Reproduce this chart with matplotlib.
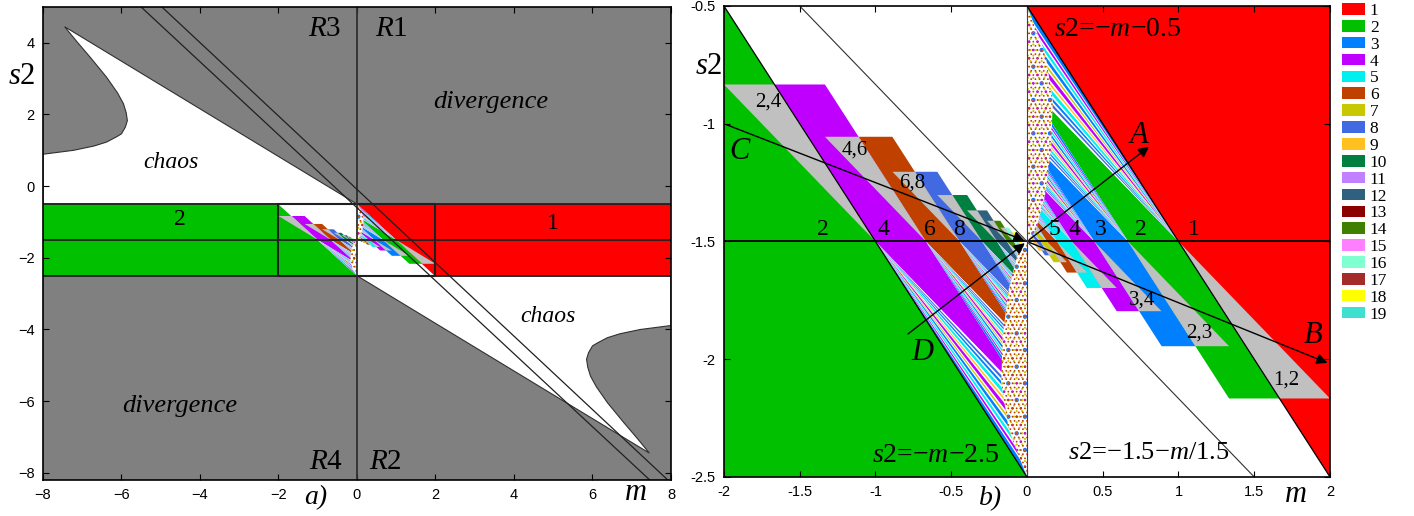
import numpy as np
import matplotlib.pyplot as plt
from matplotlib.patches import Polygon, Rectangle, Patch

plt.rcParams['mathtext.fontset'] = 'custom'
plt.rcParams['mathtext.rm'] = 'Liberation Serif'
plt.rcParams['mathtext.it'] = 'Liberation Serif:italic'
plt.rcParams['hatch.linewidth'] = 0.7

# colours of the periods 1..19
period_colors = ['#ff0000', '#00c000', '#0080ff', '#c000ff', '#00f0f0', '#c04000',
                 '#c8c800', '#4169e1', '#ffc020', '#008040', '#c080ff', '#306080',
                 '#8b0000', '#408000', '#ff80ff', '#80ffd0', '#a52a2a', '#ffff00', '#40e0d0']
period_labels = [str(i) for i in range(1, 20)]
overlap_gray = '#c0c0c0'
div_gray = '#808080'

# m of the band corners on s2 = -1.5 (m > 0 side), the m < 0 side is the mirror image
apex_m = [1.0, 0.667, 0.444, 0.296, 0.198, 0.132, 0.088, 0.059, 0.039]
right_periods = [1, 2, 3, 4, 5, 6, 7, 8, 9]
left_periods = [2, 4, 6, 8, 10, 12, 14, 16, 18]

# thin stripes inside the fans next to each band: (start, end, period)
fan_stripes = [(0.00, 0.09, 3), (0.12, 0.17, 4), (0.21, 0.27, 5), (0.31, 0.38, 3),
               (0.42, 0.46, 7), (0.50, 0.58, 4), (0.62, 0.66, 9), (0.70, 0.77, 5),
               (0.81, 0.86, 3), (0.90, 0.95, 8)]

# speckled wedge along m = 0
speckle_m = [0.0, 0.03, 0.12, 0.17, 0.16, 0.12, 0.06, 0.0]
speckle_s = [-0.5, -0.55, -0.7, -0.9, -1.1, -1.3, -1.45, -1.5]
speckle_hatches = [('.', 3), ('..', 4), ('...', 7), ('....', 6)]

# boundary of the upper chaos region in the (m, s2) plane
chaos_m = [-8.0, -7.22, -6.7, -6.38, -6.12, -6.0, -5.9, -5.85, -5.88, -5.95, -6.1,
           -6.38, -6.8, -7.15, -7.45]
chaos_s = [0.89, 1.0, 1.12, 1.23, 1.38, 1.46, 1.65, 1.83, 2.05, 2.3, 2.6, 3.04, 3.6,
           4.05, 4.45]

# labels
pair_labels = ['1,2', '2,3', '3,4']
pair_label_m = [1.71, 1.14, 0.76]
pair_label_s = [-2.09, -1.89, -1.75]
left_pair_labels = ['2,4', '4,6', '6,8']
right_num_labels = ['1', '2', '3', '4', '5']
right_num_m = [1.1, 0.75, 0.49, 0.31, 0.18]
left_num_labels = ['2', '4', '6', '8']
left_num_m = [-1.35, -0.945, -0.64, -0.45]

serif = 'Liberation Serif'


def col(p):
    return period_colors[p - 1]


def draw_regions(ax):
    for side, periods in ((1, right_periods), (-1, left_periods)):
        def pt(m, s):
            return (m, s) if side == 1 else (-m, -3.0 - s)

        def poly(pts, **kw):
            ax.add_patch(Polygon([pt(m, s) for m, s in pts], closed=True, lw=0, **kw))

        a = apex_m
        # period-1 / period-2 triangle
        poly([(0, -0.5), (2, -0.5), (2, -2.5)], facecolor=col(periods[0]))
        for k in range(1, len(a)):
            h = 2.0 / 3.0 * a[k - 1]
            poly([(0, -1.5 + a[k]), (a[k - 1], -1.5), (a[k - 1] + h, -1.5 - h),
                  (a[k] + h, -1.5 - h)], facecolor=col(periods[k]))
            # fan between this band and the previous one
            s_top, s_bot = -1.5 + a[k - 1], -1.5 + a[k]
            poly([(0, s_top), (0, s_bot), (a[k - 1], -1.5)], facecolor='white')
            for t0, t1, p in fan_stripes:
                poly([(0, s_top + t0 * (s_bot - s_top)), (0, s_top + t1 * (s_bot - s_top)),
                      (a[k - 1], -1.5)], facecolor=col(p))
        # coexistence triangles
        for k in range(len(a)):
            d = 2.0 / 3.0 * a[k]
            poly([(a[k], -1.5), (a[k] + d, -1.5 - d), (2 * a[k], -1.5 - d)],
                 facecolor=overlap_gray)
        # speckle along m = 0
        wedge = list(zip(speckle_m, speckle_s))
        poly(wedge, facecolor='white')
        for hatch, p in speckle_hatches:
            ax.add_patch(Polygon([pt(m, s) for m, s in wedge], closed=True, fill=False,
                                 hatch=hatch, edgecolor=col(p), lw=0))


fig = plt.figure(figsize=(14.14, 5.16), dpi=100)
ax1 = fig.add_axes([0.0304, 0.0698, 0.4441, 0.9167])
ax2 = fig.add_axes([0.512, 0.0756, 0.4286, 0.9128])

# ---- a) whole parameter plane
ax1.set_facecolor(div_gray)
upper = list(zip(chaos_m, chaos_s)) + [(0, -0.5), (-8, -0.5)]
ax1.add_patch(Polygon(upper, closed=True, facecolor='white', edgecolor='#303030', lw=0.8))
lower = [(-m, -3.0 - s) for m, s in upper]
ax1.add_patch(Polygon(lower, closed=True, facecolor='white', edgecolor='#303030', lw=0.8))
ax1.add_patch(Rectangle((-8, -2.5), 16, 2.0, facecolor=col(2), lw=0))
ax1.add_patch(Rectangle((0, -2.5), 8, 2.0, facecolor=col(1), lw=0))
ax1.add_patch(Rectangle((-2, -2.5), 4, 2.0, facecolor='white', lw=0))
draw_regions(ax1)
ax1.add_patch(Rectangle((-2, -2.5), 4, 2.0, fill=False, edgecolor='#202020', lw=1.5))
for s in (-0.5, -1.5, -2.5):
    ax1.plot([-8, 8], [s, s], color='#202020', lw=1.3)
ax1.plot([0, 0], [-8.2, 5], color='#303030', lw=1.3)
ax1.plot([-5.5, 7.46], [5, -8.2], color='#202020', lw=0.9)
ax1.plot([-4.97, 7.92], [5, -8.2], color='#202020', lw=0.9)
ax1.set_xlim(-8, 8)
ax1.set_ylim(-8.2, 5)
ax1.set_xticks(range(-8, 9, 2))
ax1.set_yticks(range(-8, 5, 2))

for txt, x, y in [('$R$3', -0.82, 4.39), ('$R$1', 0.89, 4.39),
                  ('$R$4', -0.78, -7.69), ('$R$2', 0.72, -7.69)]:
    ax1.text(x, y, txt, fontsize=21, ha='center', va='center', family=serif)
for txt, x, y, fs in [('divergence', 3.41, 2.36, 19), ('divergence', -4.52, -6.13, 19),
                      ('chaos', -4.74, 0.66, 17), ('chaos', 4.87, -3.63, 17)]:
    ax1.text(x, y, txt, fontsize=fs, ha='center', va='center', family=serif,
             style='italic')
ax1.text(-4.5, -0.94, '2', fontsize=17, ha='center', va='center', family=serif)
ax1.text(4.98, -1.04, '1', fontsize=17, ha='center', va='center', family=serif)
ax1.text(-1.05, -8.7, 'a)', fontsize=20, ha='center', va='center', family=serif,
         style='italic', clip_on=False)
ax1.text(7.09, -8.55, '$m$', fontsize=22, ha='center', va='center', family=serif,
         clip_on=False)
fig.text(22 / 1414, 1 - 77 / 516, '$s$2', fontsize=22, ha='center', va='center',
         family=serif)

# ---- b) zoom around the origin
ax2.set_facecolor('white')
draw_regions(ax2)
ax2.plot([-2, 2], [-1.5, -1.5], color='black', lw=1.3)
ax2.plot([0, 0], [-2.5, -0.5], color='#404040', lw=0.8)
ax2.plot([0, 2], [-0.5, -2.5], color='black', lw=0.9)
ax2.plot([-2, 0], [-0.5, -2.5], color='black', lw=0.9)
ax2.plot([-1.5, 1.5], [-1.5 - (-1.5) / 1.5, -1.5 - 1.5 / 1.5], color='#303030', lw=0.8)

arrow = dict(arrowstyle='-|>', color='black', lw=1.0, mutation_scale=16)
ax2.annotate('', xy=(0, -1.5), xytext=(-2, -1.0), arrowprops=arrow)
ax2.annotate('', xy=(2, -2.02), xytext=(0, -1.5), arrowprops=arrow)
ax2.annotate('', xy=(0, -1.5), xytext=(-0.8, -1.9), arrowprops=arrow)
ax2.annotate('', xy=(0.82, -1.09), xytext=(0, -1.5), arrowprops=arrow)

for txt, x, y in [('A', 0.74, -1.05), ('B', 1.89, -1.9), ('C', -1.9, -1.12),
                  ('D', -0.69, -1.97)]:
    ax2.text(x, y, txt, fontsize=22, ha='center', va='center', family=serif,
             style='italic')

for txt, x, y in zip(pair_labels, pair_label_m, pair_label_s):
    ax2.text(x, y, txt, fontsize=15, ha='center', va='center', family=serif)
for txt, x, y in zip(left_pair_labels, pair_label_m, pair_label_s):
    ax2.text(-x, -3.0 - y, txt, fontsize=15, ha='center', va='center', family=serif)
for txt, x in zip(right_num_labels, right_num_m):
    ax2.text(x, -1.45, txt, fontsize=17, ha='center', va='center', family=serif)
for txt, x in zip(left_num_labels, left_num_m):
    ax2.text(x, -1.45, txt, fontsize=17, ha='center', va='center', family=serif)

ax2.text(0.6, -0.6, '$s$2=−$m$−0.5', fontsize=20, ha='center', va='center',
         family=serif)
ax2.text(-0.6, -2.41, '$s$2=−$m$−2.5', fontsize=20, ha='center', va='center',
         family=serif)
ax2.text(0.8, -2.40, '$s$2=−1.5−$m$/1.5', fontsize=19, ha='center', va='center',
         family=serif)
ax2.text(-0.24, -2.59, 'b)', fontsize=20, ha='center', va='center', family=serif,
         style='italic', clip_on=False)
ax2.text(1.77, -2.575, '$m$', fontsize=22, ha='center', va='center', family=serif,
         clip_on=False)
fig.text(709 / 1414, 1 - 67 / 516, '$s$2', fontsize=22, ha='center', va='center',
         family=serif)

ax2.set_xlim(-2, 2)
ax2.set_ylim(-2.5, -0.5)
ax2.set_xticks([-2, -1.5, -1, -0.5, 0, 0.5, 1, 1.5, 2])
ax2.set_xticklabels(['-2', '-1.5', '-1', '-0.5', '0', '0.5', '1', '1.5', '2'])
ax2.set_yticks([-2.5, -2, -1.5, -1, -0.5])
ax2.set_yticklabels(['-2.5', '-2', '-1.5', '-1', '-0.5'])

for ax in (ax1, ax2):
    ax.tick_params(direction='in', top=True, right=True, length=4, labelsize=10.5,
                   pad=6)
    for lab in ax.get_xticklabels() + ax.get_yticklabels():
        lab.set_family('Liberation Sans')
    for sp in ax.spines.values():
        sp.set_linewidth(1.2)

handles = [Patch(facecolor=c, edgecolor='none') for c in period_colors]
leg = fig.legend(handles, period_labels, loc='upper left',
                 bbox_to_anchor=(1342 / 1414, 1 - 3 / 516), frameon=False,
                 prop={'family': serif, 'size': 12.5}, handlelength=1.3,
                 handleheight=0.65, labelspacing=0.05, handletextpad=0.3,
                 borderaxespad=0, borderpad=0)

fig.savefig('out.png', dpi=100)
